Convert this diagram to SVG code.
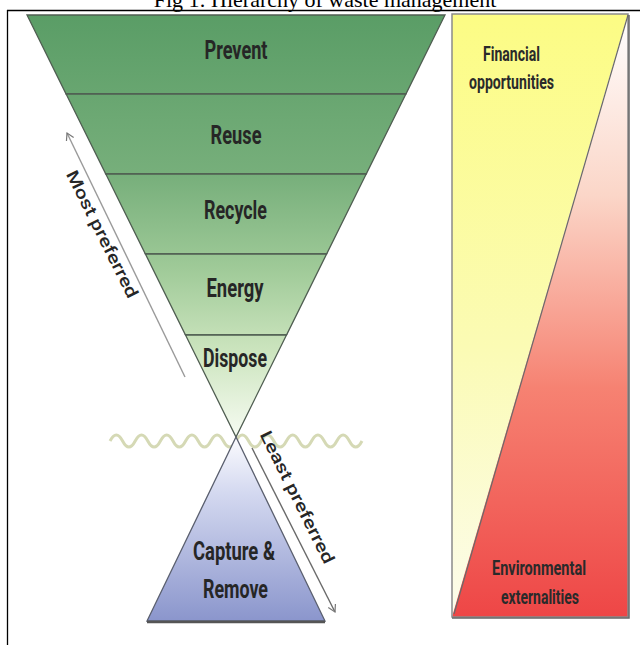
<svg xmlns="http://www.w3.org/2000/svg" width="640" height="645" viewBox="0 0 640 645">
<style>
.title{font-family:"Liberation Serif","Times New Roman",serif;font-size:22px;fill:#000}
.lbl{font-family:Roboto,"Liberation Sans",sans-serif;font-weight:700;font-size:25px;fill:#262626;text-anchor:middle}
.side{font-family:Roboto,"Liberation Sans",sans-serif;font-weight:700;font-size:20px;fill:#2a2a2a;text-anchor:middle}
.rot{font-family:Roboto,"Liberation Sans",sans-serif;font-weight:500;font-size:17px;fill:#262626;text-anchor:middle}
.band{fill:url(#gGreen);stroke:#4f5d51;stroke-width:1.3}
.arr{fill:none;stroke-width:1.4}
</style>
<defs>
<linearGradient id="gGreen" gradientUnits="userSpaceOnUse" x1="0" y1="15" x2="0" y2="437">
<stop offset="0" stop-color="#5a9d66"/>
<stop offset="0.38" stop-color="#77af7b"/>
<stop offset="0.6" stop-color="#9fca98"/>
<stop offset="0.8" stop-color="#cde5bf"/>
<stop offset="1" stop-color="#f6fbf2"/>
</linearGradient>
<linearGradient id="gBlue" gradientUnits="userSpaceOnUse" x1="0" y1="437" x2="0" y2="622">
<stop offset="0" stop-color="#fbfbfe"/>
<stop offset="0.3" stop-color="#d4d9f0"/>
<stop offset="1" stop-color="#8a95cc"/>
</linearGradient>
<linearGradient id="gYellow" gradientUnits="userSpaceOnUse" x1="0" y1="14" x2="0" y2="617">
<stop offset="0" stop-color="#fcfc84"/>
<stop offset="0.55" stop-color="#fbfbb4"/>
<stop offset="1" stop-color="#fcfcec"/>
</linearGradient>
<linearGradient id="gRed" gradientUnits="userSpaceOnUse" x1="0" y1="14" x2="0" y2="617">
<stop offset="0" stop-color="#ffffff"/>
<stop offset="0.3" stop-color="#fbd6c8"/>
<stop offset="0.62" stop-color="#f68272"/>
<stop offset="1" stop-color="#ee4646"/>
</linearGradient>
<marker id="head" markerWidth="10" markerHeight="10" refX="8" refY="5" orient="auto" markerUnits="userSpaceOnUse">
<path d="M1,1 L8,5 L1,9" fill="none" stroke="#777" stroke-width="1.2"/>
</marker>
</defs>

<text class="title" x="325" y="7" text-anchor="middle">Fig 1: Hierarchy of waste management</text>
<path d="M7,10.5 H640 M7.5,10 V645" stroke="#000" stroke-width="1.3" fill="none"/>

<path d="M110,441 q6.3,-12 12.6,0 t12.6,0 t12.6,0 t12.6,0 t12.6,0 t12.6,0 t12.6,0 t12.6,0 t12.6,0 t12.6,0 t12.6,0 t12.6,0 t12.6,0 t12.6,0 t12.6,0 t12.6,0 t12.6,0 t12.6,0 t12.6,0 t12.6,0" fill="none" stroke="#d5d9b5" stroke-width="3"/>

<g id="prevent">
<polygon class="band" points="27,15 445,15 405.9,94 66.1,94"/>
<text class="lbl" x="236" y="59" textLength="63" lengthAdjust="spacingAndGlyphs">Prevent</text>
</g>
<g id="reuse">
<polygon class="band" points="66.1,94 405.9,94 366.2,174 105.8,174"/>
<text class="lbl" x="236" y="144" textLength="51" lengthAdjust="spacingAndGlyphs">Reuse</text>
</g>
<g id="recycle">
<polygon class="band" points="105.8,174 366.2,174 326.6,254 145.4,254"/>
<text class="lbl" x="235.5" y="219" textLength="63" lengthAdjust="spacingAndGlyphs">Recycle</text>
</g>
<g id="energy">
<polygon class="band" points="145.4,254 326.6,254 286.5,335 185.5,335"/>
<text class="lbl" x="235" y="297" textLength="57" lengthAdjust="spacingAndGlyphs">Energy</text>
</g>
<g id="dispose">
<polygon class="band" points="185.5,335 286.5,335 236,437"/>
<text class="lbl" x="235" y="367" textLength="64" lengthAdjust="spacingAndGlyphs">Dispose</text>
</g>
<g id="capture">
<polygon points="236,437 325,621 147,621" fill="url(#gBlue)" stroke="#5a5f6e" stroke-width="1.3"/>
<line x1="147" y1="622" x2="325" y2="622" stroke="#555" stroke-width="2.5"/>
<text class="lbl" x="234" y="560" textLength="82" lengthAdjust="spacingAndGlyphs">Capture &amp;</text>
<text class="lbl" x="235.5" y="598" textLength="65" lengthAdjust="spacingAndGlyphs">Remove</text>
</g>

<g id="financial">
<polygon points="452,14 628,14 452,617" fill="url(#gYellow)"/>
<text class="side" x="511.5" y="61" textLength="57" lengthAdjust="spacingAndGlyphs">Financial</text>
<text class="side" x="511.5" y="89" textLength="85" lengthAdjust="spacingAndGlyphs">opportunities</text>
</g>
<g id="environmental">
<polygon points="628,14 628,617 452,617" fill="url(#gRed)"/>
<text class="side" x="539" y="575" textLength="94" lengthAdjust="spacingAndGlyphs">Environmental</text>
<text class="side" x="540" y="604" textLength="78" lengthAdjust="spacingAndGlyphs">externalities</text>
</g>
<g id="panel-frame">
<rect x="452" y="14" width="176" height="603" fill="none" stroke="#8a8a8a" stroke-width="1.5"/>
<line x1="628" y1="15" x2="454" y2="614" stroke="#6a6a6a" stroke-width="1.2"/>
<path d="M629,15 V618 H452" fill="none" stroke="#666" stroke-width="1.5"/>
</g>

<g id="connectors">
<line class="arr" x1="185" y1="377" x2="67" y2="133" stroke="#9a9a9a" marker-end="url(#head)"/>
<line class="arr" x1="252" y1="448" x2="335" y2="612" stroke="#6a6a6a" marker-end="url(#head)"/>
</g>

<g id="most-preferred">
<text class="rot" transform="translate(101.5,234.5) rotate(63.5)" x="0" y="5" textLength="140" lengthAdjust="spacingAndGlyphs">Most preferred</text>
</g>
<g id="least-preferred">
<text class="rot" transform="translate(296.5,497.5) rotate(63.5)" x="0" y="5" textLength="146" lengthAdjust="spacingAndGlyphs">Least preferred</text>
</g>
</svg>
